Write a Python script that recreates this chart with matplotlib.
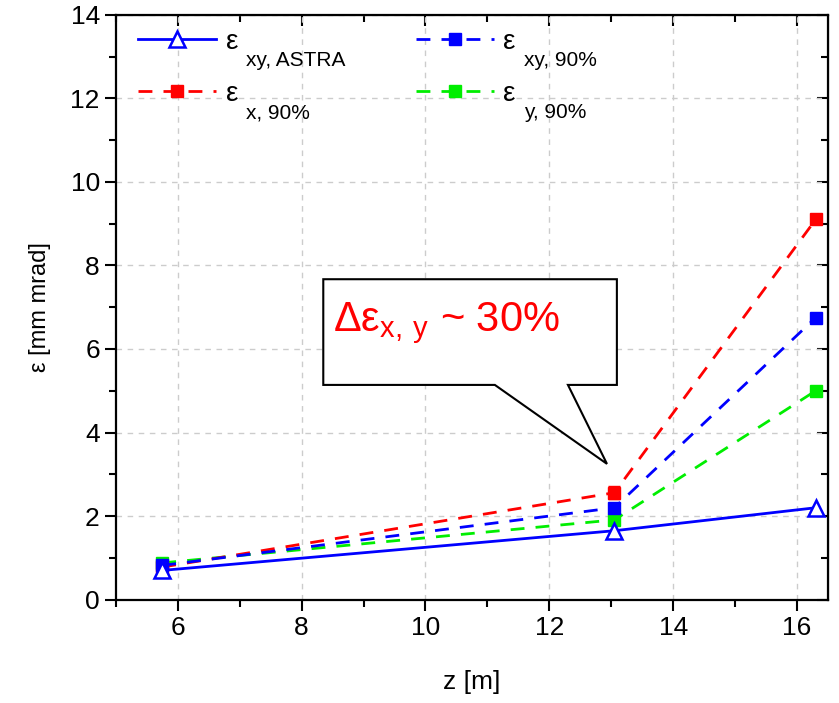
import matplotlib
matplotlib.use("Agg")
import matplotlib.pyplot as plt
from matplotlib.patches import Polygon
from matplotlib.lines import Line2D
from matplotlib.ticker import MultipleLocator

plt.rcParams['font.family'] = ['Liberation Sans', 'DejaVu Sans']

# data
z = [5.75, 13.05, 16.3]
eps_xy_astra = [0.70, 1.65, 2.20]
eps_xy_90 = [0.82, 2.20, 6.75]
eps_x_90 = [0.78, 2.56, 9.10]
eps_y_90 = [0.88, 1.91, 5.00]
err_x_90 = [0.05, 0.15, 0.08]
err_xy_90 = [0.04, 0.10, 0.08]
err_y_90 = [0.04, 0.08, 0.06]

legend_subs = ['xy, ASTRA', 'x, 90%', 'xy, 90%', 'y, 90%']

# callout (data coordinates)
box_x = [8.35, 13.09]
box_y = [5.14, 7.67]
pointer_base = [11.12, 12.30]
pointer_tip = (12.93, 3.25)

blue = '#0000ff'
red = '#ff0000'
green = '#00ee00'
dash = (0, (5, 4))

fig = plt.figure(figsize=(8.39, 7.03), dpi=100)
ax = fig.add_axes([0.138, 0.147, 0.849, 0.832])

ax.plot(z, eps_xy_astra, '-', color=blue, lw=2, marker='^', ms=12,
        mfc='white', mec=blue, mew=1.8, zorder=5)
ax.errorbar(z, eps_x_90, yerr=err_x_90, fmt='s', ls=dash, color=red, lw=2, ms=9,
            capsize=4, elinewidth=1, zorder=3)
ax.errorbar(z, eps_xy_90, yerr=err_xy_90, fmt='s', ls=dash, color=blue, lw=2, ms=9,
            capsize=4, elinewidth=1, zorder=4)
ax.errorbar(z, eps_y_90, yerr=err_y_90, fmt='s', ls=dash, color=green, lw=2, ms=9,
            capsize=4, elinewidth=1, zorder=2)

ax.set_xlim(5, 16.5)
ax.set_ylim(0, 14)
ax.xaxis.set_major_locator(MultipleLocator(2))
ax.xaxis.set_minor_locator(MultipleLocator(1))
ax.yaxis.set_major_locator(MultipleLocator(2))
ax.yaxis.set_minor_locator(MultipleLocator(1))
ax.grid(True, which='major', color='#cccccc', ls=(0, (4, 4)), lw=1)
ax.set_axisbelow(True)

ax.tick_params(which='both', direction='out', width=1.5, labelsize=19)
ax.tick_params(which='major', length=8)
ax.tick_params(which='minor', length=5)
for s in ax.spines.values():
    s.set_linewidth(1.6)

top = ax.secondary_xaxis('top')
top.xaxis.set_major_locator(MultipleLocator(2))
top.xaxis.set_minor_locator(MultipleLocator(1))
top.tick_params(which='both', direction='in', labeltop=False, width=1.5)
top.tick_params(which='major', length=8)
top.tick_params(which='minor', length=5)
right = ax.secondary_yaxis('right')
right.yaxis.set_major_locator(MultipleLocator(2))
right.yaxis.set_minor_locator(MultipleLocator(1))
right.tick_params(which='both', direction='in', labelright=False, width=1.5)
right.tick_params(which='major', length=8)
right.tick_params(which='minor', length=5)

ax.set_xlabel('z [m]', fontsize=19, labelpad=22)
ax.set_ylabel('ε [mm mrad]', fontsize=17, labelpad=14)

# legend: proxies without error bars, ε in the label, subscript added below-right
handles = [
    Line2D([], [], color=blue, lw=2, marker='^', ms=12, mfc='white', mec=blue, mew=1.8),
    Line2D([], [], color=red, lw=2, ls=dash, marker='s', ms=9),
    Line2D([], [], color=blue, lw=2, ls=dash, marker='s', ms=9),
    Line2D([], [], color=green, lw=2, ls=dash, marker='s', ms=9),
]
leg = ax.legend(handles, ['ε'] * 4, loc='upper left', bbox_to_anchor=(0.012, 1.0), ncol=2,
                frameon=False, fontsize=20, handlelength=2.8, columnspacing=6.4,
                labelspacing=0.95, borderaxespad=0.1, handletextpad=0.35)
for txt, sub in zip(leg.get_texts(), legend_subs):
    ax.annotate(sub, xy=(1, 0), xycoords=txt, xytext=(6, -8), textcoords='offset points',
                fontsize=15, va='baseline', ha='left', zorder=10)

callout = Polygon([(box_x[0], box_y[1]), (box_x[1], box_y[1]), (box_x[1], box_y[0]),
                   (pointer_base[1], box_y[0]), pointer_tip, (pointer_base[0], box_y[0]),
                   (box_x[0], box_y[0])], closed=True, facecolor='white',
                  edgecolor='black', lw=1.5, zorder=6)
ax.add_patch(callout)
ax.text(8.5, 6.62, r'Δε$_{\mathregular{x,\,y}}$ ~ 30%', color=red, fontsize=30,
        va='center', ha='left', zorder=7)

plt.savefig('out.png', dpi=100)
